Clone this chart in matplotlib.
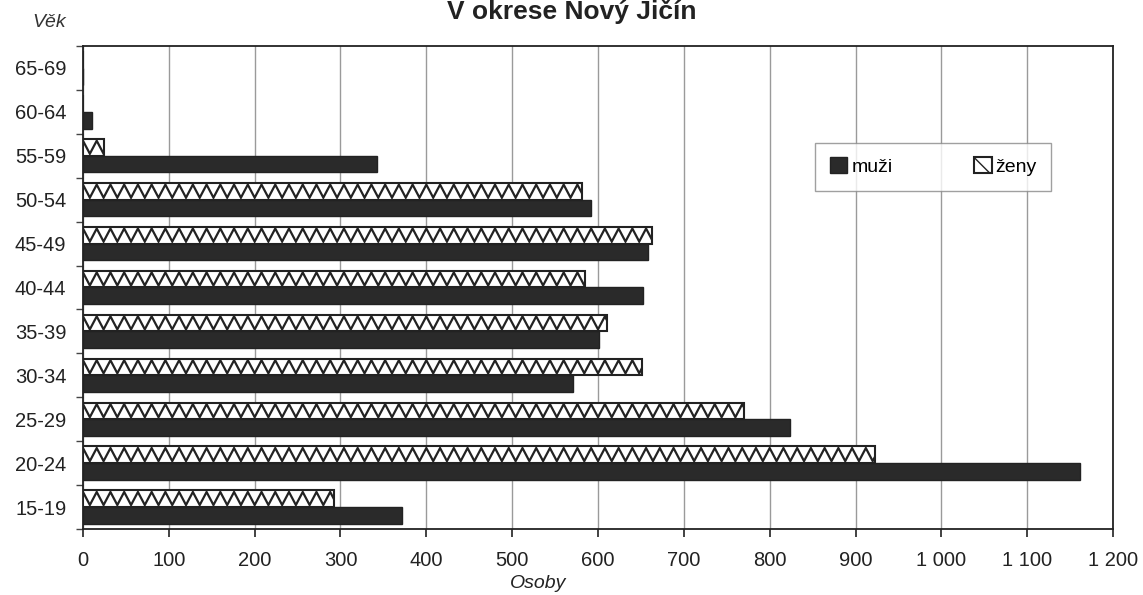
import numpy as np
import matplotlib.pyplot as plt
from matplotlib.patches import Patch
from matplotlib.ticker import FuncFormatter

plt.rcParams['font.family'] = ['Liberation Sans', 'DejaVu Sans']

# vekove skupiny (od nejmladsi)
vek = ['15-19', '20-24', '25-29', '30-34', '35-39', '40-44',
       '45-49', '50-54', '55-59', '60-64', '65-69']
muzi = [372, 1161, 824, 571, 601, 652, 658, 592, 342, 10, 0]
zeny = [293, 923, 770, 651, 611, 585, 663, 581, 24, 0, 0]
x_ticks = list(range(0, 1300, 100))

tmava = '#2a2a2a'
okraj = '#222222'

fig = plt.figure(figsize=(11.43, 5.95), dpi=100)
ax = fig.add_axes([0.0726, 0.111, 0.9012, 0.8117])

y = np.arange(len(vek))
h = 0.38

ax.barh(y - h / 2, muzi, height=h, color=tmava, edgecolor=okraj,
        linewidth=1.0, zorder=3)
bars_z = ax.barh(y + h / 2, zeny, height=h, color='white', edgecolor=okraj,
                 linewidth=1.5, zorder=3)

# klikatka uvnitr sloupcu zen
krok = 8.0
for b, w in zip(bars_z, zeny):
    if w <= 0:
        continue
    x0, y0 = b.get_x(), b.get_y()
    hh = b.get_height()
    xs = np.arange(x0, x0 + w + krok, krok)
    ys = np.where(np.arange(len(xs)) % 2 == 0, y0 + hh * 0.9, y0 + hh * 0.12)
    ln, = ax.plot(xs, ys, color=okraj, linewidth=1.6, zorder=4,
                  solid_joinstyle='miter')
    ln.set_clip_path(b)

ax.set_xlim(0, 1200)
ax.set_ylim(-0.5, len(vek) - 0.5)

ax.set_xticks(x_ticks)
ax.xaxis.set_major_formatter(FuncFormatter(lambda v, p: f'{int(v):,}'.replace(',', ' ')))
ax.tick_params(axis='x', direction='out', length=6, width=1.2, labelsize=14.5,
               pad=10, colors='#222222')
ax.grid(axis='x', color='#9a9a9a', linewidth=1.0, zorder=0)

ax.set_yticks(np.arange(len(vek) + 1) - 0.5)
ax.set_yticklabels([])
ax.set_yticks(y, minor=True)
ax.set_yticklabels(vek, minor=True)
ax.tick_params(axis='y', which='major', direction='out', length=5, width=1.0,
               colors='#444444')
ax.tick_params(axis='y', which='minor', length=0, labelsize=14.5, pad=12,
               labelcolor='#222222')

for s in ax.spines.values():
    s.set_color('#222222')
    s.set_linewidth(1.3)

ax.set_xlabel('Osoby', fontstyle='italic', fontsize=14, color='#222222',
              va='center')
ax.xaxis.set_label_coords(0.442, -0.112)
fig.text(0.028, 0.962, 'Věk', fontstyle='italic', fontsize=14, color='#333333',
         ha='left', va='center')
fig.text(0.5, 1 - 19 / 595, 'V okrese Nový Jičín', fontweight='bold',
         fontsize=19, color='#222222', ha='center', va='baseline')

handles = [Patch(facecolor=tmava, edgecolor=okraj, label='muži'),
           Patch(facecolor='white', edgecolor=okraj, linewidth=1.5,
                 hatch='\\\\', label='ženy')]
leg = ax.legend(handles=handles, ncol=2, loc='upper left',
                bbox_to_anchor=(0.711, 0.80), frameon=True, fancybox=False,
                fontsize=14, handlelength=0.9, handleheight=0.9,
                handletextpad=0.2, columnspacing=4.2, borderpad=0.75,
                borderaxespad=0, edgecolor='#888888')
leg.get_frame().set_linewidth(1.0)
leg.set_zorder(6)

fig.savefig('out.png', dpi=100)
